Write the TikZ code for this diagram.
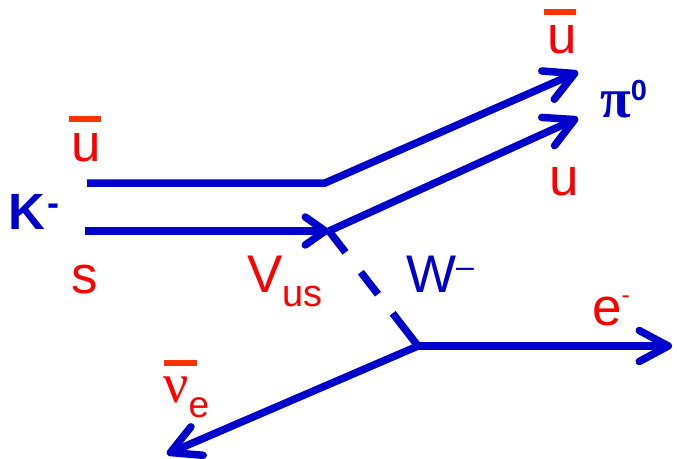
\documentclass[tikz,border=0pt]{standalone}
\usepackage{fontspec}
\setmainfont{Liberation Sans}
\newfontfamily\greekserif{Liberation Serif}
\usetikzlibrary{arrows.meta}
\definecolor{qblue}{HTML}{0000CC}
\definecolor{qred}{HTML}{FF0000}
\definecolor{qbar}{HTML}{FF3300}
\newcommand\qbarred[3]{\rlap{\hspace{#1}\textcolor{qbar}{\rule[#2]{#3}{6pt}}}}
\begin{document}
\begin{tikzpicture}[x=1pt,y=-1pt,
  quark/.style={line width=7.5pt, draw=qblue},
  bigtip/.style={-{Straight Barb[length=29pt,width=31pt,round]}},
  smalltip/.style={-{Straight Barb[length=20pt,width=28pt,round]}},
  lbl/.style={inner sep=0pt, anchor=base west, text=qred, font=\fontsize{53}{53}\selectfont},
  blbl/.style={lbl, text=qblue}]
\useasboundingbox (0,0) rectangle (677,458);
% coordinates
\coordinate (ubs) at (87,183);
\coordinate (ubk) at (325,183);
\coordinate (ube) at (578,72);
\coordinate (ss) at (85,231);
\coordinate (V) at (329,231);
\coordinate (ue) at (578,118);
\coordinate (W) at (418,346);
\coordinate (ee) at (672,346);
\coordinate (nue) at (167,454);
% lines
\draw[quark, bigtip] (ubs) -- (ubk) -- (ube);
\draw[quark, smalltip] (ss) -- (V);
\draw[quark, bigtip] (V) -- (ue);
\draw[quark, dash pattern=on 27pt off 25pt on 28pt off 24pt on 40pt] (V) -- (W);
\draw[quark, bigtip] (W) -- (ee);
\draw[quark, bigtip] (W) -- (nue);
% labels
\node[lbl] (ubarL) at (71,161) {\qbarred{-2pt}{39pt}{32pt}u};
\node[blbl, font=\fontsize{51}{51}\selectfont\bfseries] (K) at (8,229) {K\hspace{2pt}\raisebox{14pt}{\fontsize{36}{36}\selectfont -}};
\node[lbl] (s) at (71.5,293) {s};
\node[lbl] (Vus) at (247,292) {V\raisebox{-14pt}{\fontsize{38}{38}\selectfont us}};
\node[blbl] (Wm) at (406,292) {W\raisebox{15pt}{\fontsize{32}{32}\selectfont –}};
\node[lbl] (em) at (592,325) {e\raisebox{22pt}{\fontsize{25}{25}\selectfont -}};
\node[lbl] (nubar) at (163,402) {\qbarred{1pt}{36pt}{33pt}{\greekserif\fontsize{56}{56}\selectfont ν}\raisebox{-15pt}{\fontsize{37}{37}\selectfont e}};
\node[lbl] (ubarR) at (547,53) {\qbarred{-3pt}{38pt}{32pt}u};
\node[blbl] (pi) at (600,117) {{\greekserif\bfseries\fontsize{56}{56}\selectfont π}\raisebox{17pt}{\fontsize{29}{29}\selectfont\bfseries 0}};
\node[lbl] (ur) at (549,195) {u};
\end{tikzpicture}
\end{document}
